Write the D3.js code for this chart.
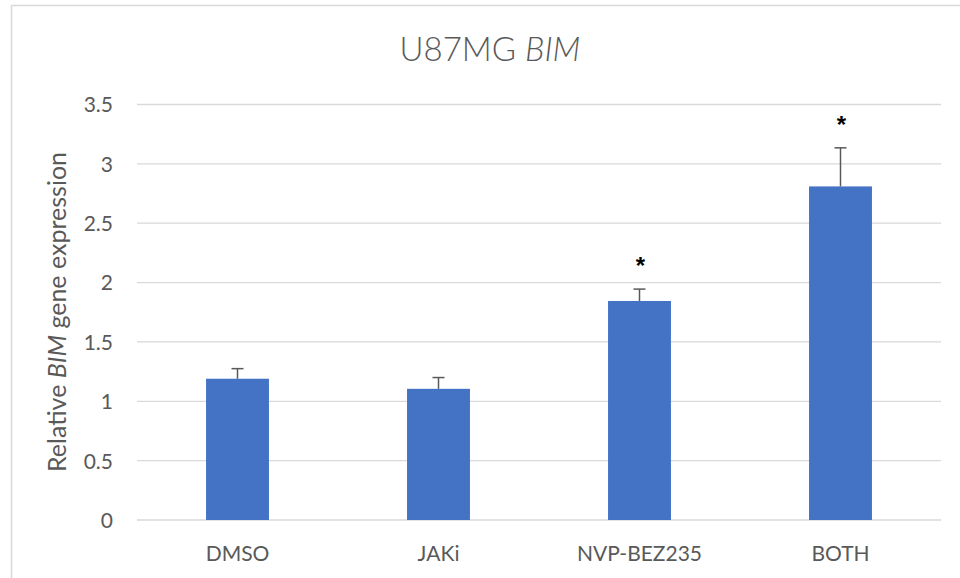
<!DOCTYPE html>
<html><head><meta charset="utf-8">
<script src="https://cdn.jsdelivr.net/npm/d3@7"></script>
<style>body{margin:0;background:#fff}svg{display:block}</style>
</head><body>
<svg id="chart" width="960" height="578"></svg>
<script>
const categories = ["DMSO", "JAKi", "NVP-BEZ235", "BOTH"];
const values = [1.19, 1.105, 1.845, 2.81];
const errors = [0.085, 0.095, 0.10, 0.325];
const significant = [false, false, true, true];
const yTicks = [0, 0.5, 1, 1.5, 2, 2.5, 3, 3.5];
const yTickLabels = ["0", "0.5", "1", "1.5", "2", "2.5", "3", "3.5"];

const svg = d3.select("#chart");
const font = "Lato, 'Open Sans', sans-serif";
const textColor = "#595959";

// outer chart frame
svg.append("rect").attr("x", 11.5).attr("y", 5.5).attr("width", 1000).attr("height", 1000)
  .attr("fill", "none").attr("stroke", "#d9d9d9").attr("stroke-width", 1.5);

const x = d3.scaleBand().domain(categories).range([137, 941]).paddingInner(0.687).paddingOuter(0.3435);
const y = d3.scaleLinear().domain([0, 3.5]).range([520, 104.5]);

// gridlines
svg.append("g").selectAll("line").data(yTicks).join("line")
  .attr("x1", 137).attr("x2", 941)
  .attr("y1", d => y(d)).attr("y2", d => y(d))
  .attr("stroke", "#d9d9d9").attr("stroke-width", 1.3);

// y axis labels
const yAxis = d3.axisLeft(y).tickValues(yTicks).tickFormat((d, i) => yTickLabels[i]).tickSize(0).tickPadding(0);
const ya = svg.append("g").attr("transform", "translate(113,0)").call(yAxis);
ya.select(".domain").remove();
ya.selectAll("text").attr("font-family", font).attr("font-size", 21).attr("fill", textColor).attr("dy", "0.35em");

// x axis labels
const xAxis = d3.axisBottom(x).tickSize(0).tickPadding(0);
const xa = svg.append("g").attr("transform", "translate(0,561)").call(xAxis);
xa.select(".domain").remove();
xa.selectAll("text").attr("font-family", font).attr("font-size", 21).attr("fill", textColor).attr("dy", "0");

// bars
svg.append("g").selectAll("rect").data(values).join("rect")
  .attr("x", (d, i) => x(categories[i]))
  .attr("width", x.bandwidth())
  .attr("y", d => y(d))
  .attr("height", d => y(0) - y(d))
  .attr("fill", "#4472C4");

// error bars
const eg = svg.append("g").attr("stroke", "#595959").attr("stroke-width", 1.5);
values.forEach((v, i) => {
  const cx = x(categories[i]) + x.bandwidth() / 2;
  eg.append("line").attr("x1", cx).attr("x2", cx).attr("y1", y(v)).attr("y2", y(v + errors[i]));
  eg.append("line").attr("x1", cx - 6).attr("x2", cx + 6).attr("y1", y(v + errors[i])).attr("y2", y(v + errors[i]));
});

// significance stars
svg.append("g").selectAll("text").data(values.map((v, i) => ({v, i})).filter(d => significant[d.i])).join("text")
  .attr("x", d => x(categories[d.i]) + x.bandwidth() / 2 + 1)
  .attr("y", d => y(d.v + errors[d.i]) - 15)
  .attr("text-anchor", "middle")
  .attr("font-family", "'Liberation Sans', sans-serif").attr("font-size", 24).attr("font-weight", "bold")
  .attr("fill", "#000").text("*");

// title
const title = svg.append("text").attr("x", 490).attr("y", 61).attr("text-anchor", "middle")
  .attr("font-family", font).attr("font-size", 33).attr("font-weight", 300).attr("fill", textColor);
title.append("tspan").text("U87MG ");
title.append("tspan").attr("font-style", "italic").text("BIM");

// y axis title
const yt = svg.append("text").attr("transform", "translate(66,312) rotate(-90)").attr("text-anchor", "middle")
  .attr("font-family", font).attr("font-size", 25).attr("fill", textColor);
yt.append("tspan").text("Relative ");
yt.append("tspan").attr("font-style", "italic").text("BIM");
yt.append("tspan").text(" gene expression");
</script>
</body></html>
